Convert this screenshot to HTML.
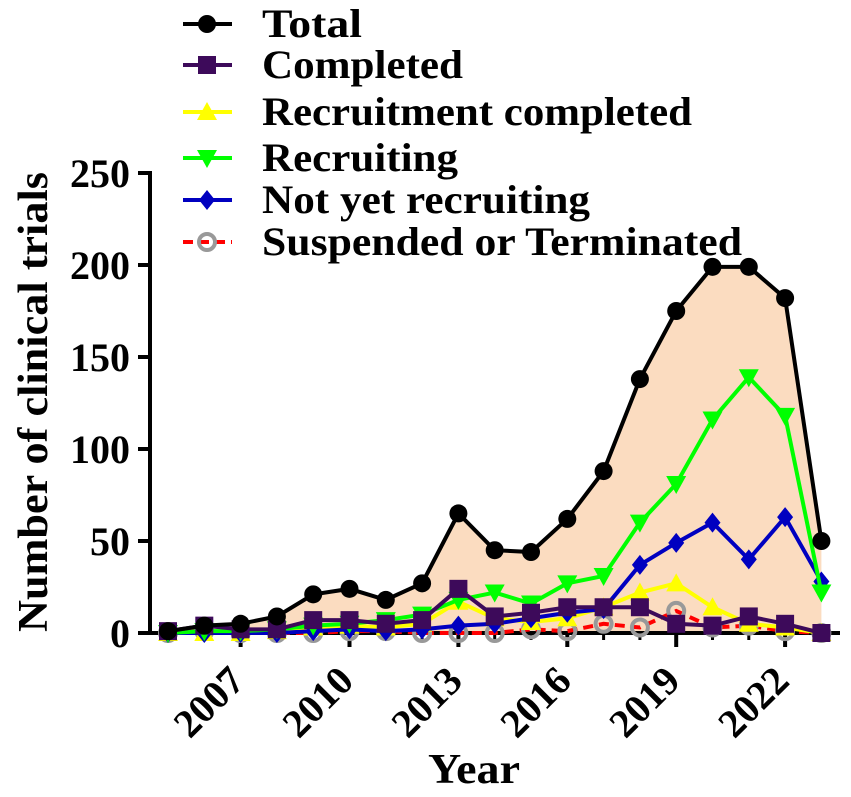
<!DOCTYPE html>
<html><head><meta charset="utf-8"><style>
body{margin:0;background:#fff}
svg text{font-family:"Liberation Serif","Times New Roman",serif;font-weight:bold;fill:#000}
</style></head><body>
<svg id="chart" width="851" height="792" xmlns="http://www.w3.org/2000/svg" font-family="Liberation Serif, serif" font-weight="bold">
<g id="plot"></g>
</svg>
<script>
const years=[2005,2006,2007,2008,2009,2010,2011,2012,2013,2014,2015,2016,2017,2018,2019,2020,2021,2022,2023];
const totalVals=[1,4,5,9,21,24,18,27,65,45,44,62,88,138,175,199,199,182,50];
const completedVals=[1,4,2,2,7,7,5,7,24,9,11,14,14,14,5,4,9,5,0];
const recCompletedVals=[0,0,0,1,3,4,3,5,17,8,6,8,14,22,27,14,5,3,0];
const recruitingVals=[0,1,1,2,4,5,7,10,18,22,16,27,31,60,81,116,139,118,22];
const notYetVals=[0,0,0,0,1,2,1,2,4,5,8,11,13,37,49,60,40,63,28];
const suspendedVals=[0,1,0,0,0,1,1,0,0,0,2,1,5,3,12,3,4,1,0];
const yTicks=[0,50,100,150,200,250];
const xTickLabels=[2007,2010,2013,2016,2019,2022];
const NS="http://www.w3.org/2000/svg";
const X0=150,Y0=633;
const xs=y=>168+(y-2005)*36.3;
const ys=v=>Y0-v*1.84;
const g=document.getElementById('plot');
const SERIF='"Liberation Serif","Times New Roman",serif';
function mk(tag,attrs,parent){const e=document.createElementNS(NS,tag);for(const k in attrs)e.setAttribute(k,attrs[k]);if(tag==='text'){e.style.fontFamily=SERIF;e.style.fontWeight='bold';}(parent||g).appendChild(e);return e;}
let d='M'+xs(years[0])+','+Y0;years.forEach((y,i)=>d+=' L'+xs(y)+','+ys(totalVals[i]));d+=' L'+xs(years[years.length-1])+','+Y0+' Z';
const fill=mk('path',{d:d,fill:'#fbdcc0'});


const ax=mk('path',{d:`M${X0-12},173 H${X0} V${Y0} H840`,stroke:'#000','stroke-width':4,fill:'none'});


yTicks.forEach(v=>{
  mk('line',{x1:X0-12,x2:X0,y1:ys(v),y2:ys(v),stroke:'#000','stroke-width':4});
  const t=mk('text',{x:X0-20,y:ys(v)+14,'text-anchor':'end','font-size':40});
  t.textContent=v;
  
  
});
years.forEach(y=>{
  const major=xTickLabels.includes(y);
  mk('line',{x1:xs(y),x2:xs(y),y1:Y0,y2:Y0+(major?14:7),stroke:'#000','stroke-width':major?4:3});
});
xTickLabels.forEach(y=>{
  const ax_=xs(y)+6,ay=Y0+50;
  const t=mk('text',{x:ax_,y:ay,'text-anchor':'end','font-size':40,transform:`rotate(-45 ${ax_} ${ay})`});
  t.textContent=y;
  
  
});
const xt=mk('text',{x:474,y:783,'text-anchor':'middle','font-size':42,textLength:92,lengthAdjust:'spacingAndGlyphs'});xt.textContent='Year';


const yt=mk('text',{x:47,y:402,'text-anchor':'middle','font-size':42,textLength:460,lengthAdjust:'spacingAndGlyphs',transform:'rotate(-90 47 402)'});yt.textContent='Number of clinical trials';



function marker(kind,cx,cy,color,parent){
  if(kind==='circle')return mk('circle',{cx,cy,r:9,fill:'#000'},parent);
  if(kind==='square')return mk('rect',{x:cx-9,y:cy-9,width:18,height:18,fill:color},parent);
  if(kind==='up')return mk('polygon',{points:`${cx},${cy-10} ${cx+10},${cy+8} ${cx-10},${cy+8}`,fill:color},parent);
  if(kind==='down')return mk('polygon',{points:`${cx},${cy+10} ${cx+10},${cy-8} ${cx-10},${cy-8}`,fill:color},parent);
  if(kind==='diamond')return mk('polygon',{points:`${cx},${cy-10} ${cx+8},${cy} ${cx},${cy+10} ${cx-8},${cy}`,fill:color},parent);
  if(kind==='ring')return mk('circle',{cx,cy,r:8,fill:'none',stroke:'#999','stroke-width':4},parent);
}
const series=[
 {vals:suspendedVals,color:'#ff0000',m:'ring',dash:'10,6',key:'suspended'},
 {vals:recCompletedVals,color:'#ffff00',m:'up',key:'recruitment-completed'},
 {vals:notYetVals,color:'#0000c0',m:'diamond',key:'not-yet-recruiting'},
 {vals:recruitingVals,color:'#00ff00',m:'down',key:'recruiting'},
 {vals:completedVals,color:'#3d0a5a',m:'square',key:'completed'},
 {vals:totalVals,color:'#000',m:'circle',key:'total'}
];
series.forEach(s=>{
  const grp=mk('g',{});
  
  
  const pts=years.map((y,i)=>xs(y)+','+ys(s.vals[i])).join(' ');
  const a={points:pts,fill:'none',stroke:s.color,'stroke-width':4};if(s.dash)a['stroke-dasharray']=s.dash;
  mk('polyline',a,grp);
  years.forEach((y,i)=>{
    const p=marker(s.m,xs(y),ys(s.vals[i]),s.color,grp);
    
    
  });
});
const leg=[
 ['Total','#000','circle',24,100],['Completed','#3d0a5a','square',65,201],['Recruitment completed','#ffff00','up',112,430],
 ['Recruiting','#00ff00','down',158,196],['Not yet recruiting','#0000c0','diamond',200,328],['Suspended or Terminated','#ff0000','ring',242,480]];
leg.forEach(l=>{
  const grp=mk('g',{});
  
  
  const a={x1:183,x2:232,y1:l[3],y2:l[3],stroke:l[1],'stroke-width':4};if(l[2]==='ring')a['stroke-dasharray']='10,6';
  mk('line',a,grp);
  marker(l[2],207,l[3],l[1],grp);
  const t=mk('text',{x:262,y:l[3]+13,'font-size':40,textLength:l[4],lengthAdjust:'spacingAndGlyphs'},grp);t.textContent=l[0];
});
</script>
</body></html>
